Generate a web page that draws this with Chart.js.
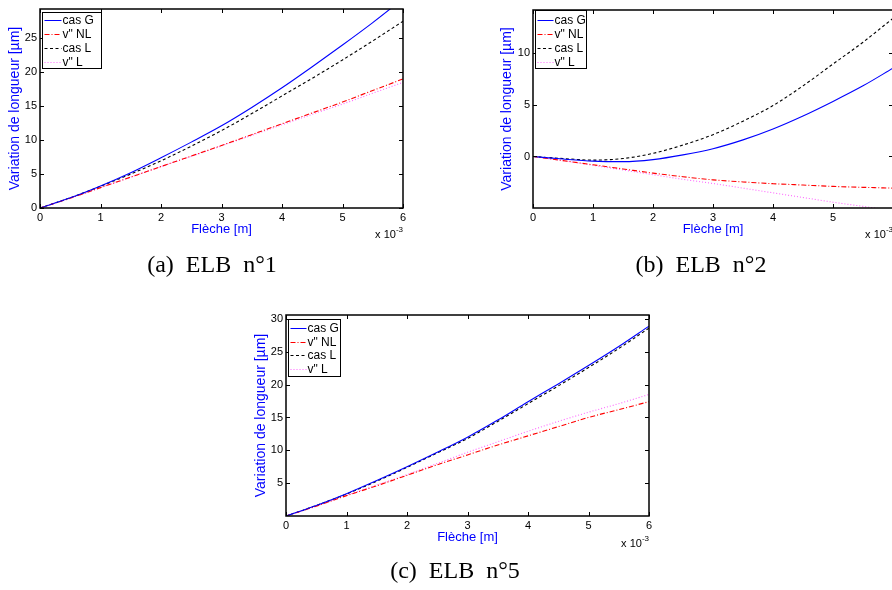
<!DOCTYPE html>
<html>
<head>
<meta charset="utf-8">
<script src="https://cdn.jsdelivr.net/npm/chart.js@4.4.1/dist/chart.umd.min.js"></script>
<style>
  html, body { margin: 0; padding: 0; background: #fff; overflow: hidden; width: 892px; height: 590px; position: relative; }
  canvas { position: absolute; }
  .legende { position: absolute; font-family: "Liberation Serif", "Times New Roman", serif; font-size: 24px; line-height: 24px; word-spacing: 6px; color: #000; white-space: pre; transform: translateX(-50%); }
</style>
</head>
<body>
<canvas id="graphA" width="420" height="260" style="left:0px;top:0px;width:420px;height:260px"></canvas>
<canvas id="graphB" width="420" height="260" style="left:480px;top:0px;width:420px;height:260px"></canvas>
<canvas id="graphC" width="420" height="260" style="left:240px;top:300px;width:420px;height:260px"></canvas>
<div class="legende" style="left:212px;top:252px">(a) ELB n°1</div>
<div class="legende" style="left:701px;top:252px">(b) ELB n°2</div>
<div class="legende" style="left:455px;top:558px">(c) ELB n°5</div>

<script>
// fleche en unites de 1e-3 m
const fleche = [0, 0.5, 1, 1.5, 2, 2.5, 3, 3.5, 4, 4.5, 5, 5.5, 6];
const nomsSeries = ['cas G', 'v" NL', 'cas L', 'v" L'];

// ELB n°1
const casG_a = [0, 1.5, 3.25, 5.2, 7.4, 9.7, 12.1, 14.8, 17.7, 20.8, 24.0, 27.3, 30.8];
const vNL_a  = [0, 1.45, 3.0, 4.55, 6.1, 7.65, 9.2, 10.8, 12.4, 14.0, 15.6, 17.3, 19.0];
const casL_a = [0, 1.5, 3.2, 5.0, 6.95, 9.1, 11.4, 13.9, 16.5, 19.1, 21.8, 24.6, 27.5];
const vL_a   = [0, 1.45, 3.0, 4.55, 6.1, 7.6, 9.15, 10.7, 12.25, 13.8, 15.3, 16.9, 18.5];

// ELB n°2
const casG_b = [0, -0.25, -0.45, -0.5, -0.3, 0.15, 0.75, 1.6, 2.65, 3.9, 5.3, 6.8, 8.5];
const vNL_b  = [0, -0.4, -0.8, -1.2, -1.6, -1.95, -2.25, -2.45, -2.62, -2.75, -2.88, -2.97, -3.05];
const casL_b = [0, -0.2, -0.35, -0.2, 0.3, 1.1, 2.1, 3.4, 4.9, 6.8, 8.9, 11.0, 13.3];
const vL_b   = [0, -0.4, -0.85, -1.3, -1.75, -2.2, -2.6, -3.05, -3.5, -3.95, -4.4, -4.8, -5.2];

// ELB n°5
const casG_c = [0, 1.6, 3.4, 5.4, 7.5, 9.7, 12.0, 14.6, 17.4, 20.1, 22.9, 25.8, 28.9];
const vNL_c  = [0, 1.5, 3.1, 4.6, 6.2, 7.8, 9.3, 10.8, 12.2, 13.6, 15.0, 16.2, 17.4];
const casL_c = [0, 1.6, 3.35, 5.3, 7.4, 9.6, 11.8, 14.4, 17.1, 19.8, 22.6, 25.5, 28.6];
const vL_c   = [0, 1.5, 3.15, 4.7, 6.3, 8.0, 9.7, 11.3, 12.9, 14.4, 15.8, 17.1, 18.5];

const xTicks   = [0, 1, 2, 3, 4, 5, 6];
const xTicks_b = [0, 1, 2, 3, 4, 5];
const yTicks_a = [0, 5, 10, 15, 20, 25];
const yTicks_b = [0, 5, 10];
const yTicks_c = [5, 10, 15, 20, 25, 30];

const POLICE = '"Liberation Sans", Arial, Helvetica, sans-serif';

// cadre, graduations internes, legende et facteur x 10^-3 facon MATLAB
const cadreMatlab = {
  id: 'cadreMatlab',
  afterDatasetsDraw(chart, args, opts) {
    const { ctx, chartArea: a, scales } = chart;
    ctx.save();
    ctx.strokeStyle = '#000';
    ctx.lineWidth = 1;
    ctx.beginPath();
    scales.x.ticks.forEach(t => {
      const px = Math.round(scales.x.getPixelForValue(t.value)) + 0.5;
      ctx.moveTo(px, a.bottom); ctx.lineTo(px, a.bottom - 4);
      ctx.moveTo(px, a.top); ctx.lineTo(px, a.top + 4);
    });
    scales.y.ticks.forEach(t => {
      const py = Math.round(scales.y.getPixelForValue(t.value)) + 0.5;
      ctx.moveTo(a.left, py); ctx.lineTo(a.left + 4, py);
      ctx.moveTo(a.right, py); ctx.lineTo(a.right - 4, py);
    });
    ctx.stroke();
    ctx.lineWidth = 1.5;
    ctx.strokeRect(a.left, a.top, a.right - a.left, a.bottom - a.top);

    const L = opts.legende;
    const x0 = Math.round(a.left + L.dx) + 0.5, y0 = Math.round(a.top + L.dy) + 0.5;
    ctx.fillStyle = '#fff';
    ctx.fillRect(x0, y0, L.w, L.h);
    ctx.lineWidth = 1;
    ctx.strokeStyle = '#000';
    ctx.strokeRect(x0, y0, L.w, L.h);
    ctx.font = '12px ' + POLICE;
    ctx.textBaseline = 'middle';
    ctx.textAlign = 'left';
    chart.data.datasets.forEach((ds, i) => {
      const y = Math.round(y0 + L.r0 + i * L.pas) + 0.5;
      ctx.strokeStyle = ds.borderColor;
      ctx.lineWidth = 1;
      ctx.setLineDash(ds.borderDash || []);
      ctx.beginPath();
      ctx.moveTo(x0 + 2, y);
      ctx.lineTo(x0 + 2 + L.ech, y);
      ctx.stroke();
      ctx.setLineDash([]);
      ctx.fillStyle = '#000';
      ctx.fillText(ds.label, x0 + 3 + L.ech, y);
    });

    ctx.textBaseline = 'alphabetic';
    ctx.textAlign = 'right';
    ctx.fillStyle = '#000';
    ctx.font = '8px ' + POLICE;
    ctx.fillText('-3', a.right, a.bottom + opts.expoY - 6);
    const w = ctx.measureText('-3').width;
    ctx.font = '11px ' + POLICE;
    ctx.fillText('x 10', a.right - w, a.bottom + opts.expoY);
    ctx.restore();
  }
};

function creerGraphe(id, series, yMin, yMax, yTicks, xTicksVis, zone, legende, titreYPad, expoY) {
  const H = 260, W = 420;
  const xHaut = H - zone.b;
  const styles = [
    { borderColor: '#0000ff', borderDash: [] },
    { borderColor: '#ff0000', borderDash: [5, 2, 1, 2] },
    { borderColor: '#000000', borderDash: [3, 2.5] },
    { borderColor: '#ff66ff', borderDash: [1, 2] }
  ];
  return new Chart(document.getElementById(id), {
    type: 'line',
    data: {
      labels: fleche,
      datasets: series.map((s, i) => ({
        label: nomsSeries[i],
        data: fleche.map((f, k) => ({ x: f, y: s[k] })),
        borderColor: styles[i].borderColor,
        borderDash: styles[i].borderDash,
        borderWidth: 1.1,
        pointRadius: 0,
        cubicInterpolationMode: 'monotone',
        fill: false
      }))
    },
    options: {
      responsive: false,
      animation: false,
      devicePixelRatio: 1,
      layout: { padding: { left: 0, top: zone.t, right: W - zone.r, bottom: 0 } },
      plugins: {
        legend: { display: false },
        tooltip: { enabled: false },
        cadreMatlab: { legende: legende, expoY: expoY }
      },
      scales: {
        x: {
          type: 'linear',
          min: 0, max: 6,
          grid: { display: false, drawTicks: false },
          border: { display: false },
          ticks: { font: { size: 11, family: POLICE }, color: '#000', padding: 3, maxRotation: 0 },
          title: { display: true, text: 'Flèche [m]', color: '#0000ff', font: { size: 13, family: POLICE }, padding: { top: 0, bottom: xHaut - 7.8 - 21 } },
          afterBuildTicks: sc => { sc.ticks = xTicksVis.map(v => ({ value: v })); },
          afterFit: sc => { sc.height = xHaut; sc.paddingLeft = 0; sc.paddingRight = 0; }
        },
        y: {
          min: yMin, max: yMax,
          grid: { display: false, drawTicks: false },
          border: { display: false },
          ticks: { font: { size: 11, family: POLICE }, color: '#000', padding: 3 },
          title: { display: true, text: 'Variation de longueur [µm]', color: '#0000ff', font: { size: 14, family: POLICE }, padding: titreYPad },
          afterBuildTicks: sc => { sc.ticks = yTicks.map(v => ({ value: v })); },
          afterFit: sc => { sc.width = zone.l; sc.paddingTop = 0; sc.paddingBottom = 0; }
        }
      }
    },
    plugins: [cadreMatlab]
  });
}

creerGraphe('graphA', [casG_a, vNL_a, casL_a, vL_a], 0, 29.3, yTicks_a, xTicks,
  { l: 40, t: 9, r: 403, b: 208 },
  { dx: 2, dy: 3, w: 59, h: 56, r0: 7, pas: 14, ech: 17 }, 6.6, 30);

creerGraphe('graphB', [casG_b, vNL_b, casL_b, vL_b], -4.96, 14.1, yTicks_b, xTicks_b,
  { l: 53, t: 10, r: 413, b: 208 },
  { dx: 2, dy: 0, w: 51, h: 58, r0: 9, pas: 14, ech: 16 }, 19.1, 30);

creerGraphe('graphC', [casG_c, vNL_c, casL_c, vL_c], 0, 30.6, yTicks_c, xTicks,
  { l: 46, t: 15, r: 409, b: 216 },
  { dx: 2, dy: 4, w: 52, h: 57, r0: 8.7, pas: 13.5, ech: 16 }, 12.6, 31);
</script>
</body>
</html>
